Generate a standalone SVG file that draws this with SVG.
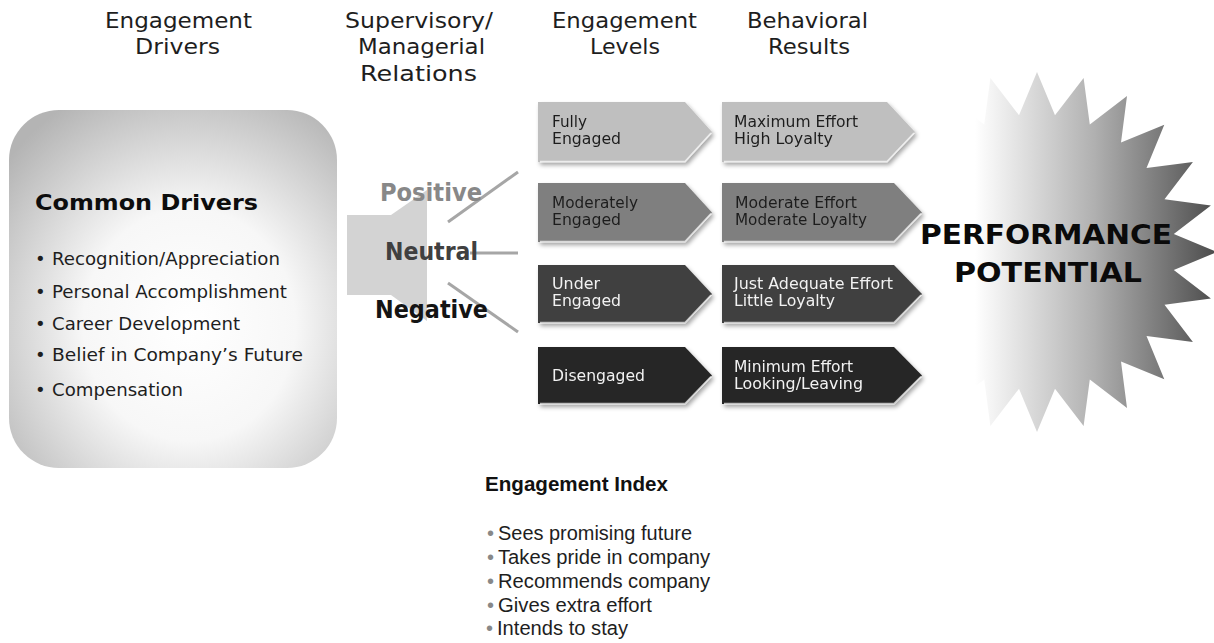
<svg xmlns="http://www.w3.org/2000/svg" width="1214" height="643" viewBox="0 0 1214 643">
  <defs>
    <radialGradient id="boxFill" cx="0.55" cy="0.6" r="0.72">
      <stop offset="0" stop-color="#ffffff"/>
      <stop offset="0.45" stop-color="#f7f7f7"/>
      <stop offset="1" stop-color="#b4b4b4"/>
    </radialGradient>
    <linearGradient id="starFill" gradientUnits="userSpaceOnUse" x1="975" y1="0" x2="1214" y2="0">
      <stop offset="0" stop-color="#ffffff"/>
      <stop offset="0.5" stop-color="#b0b0b0"/>
      <stop offset="1" stop-color="#4e4e4e"/>
    </linearGradient>
    <filter id="shadow" x="-10%" y="-20%" width="125%" height="150%">
      <feDropShadow dx="2" dy="3" stdDeviation="2" flood-color="#000" flood-opacity="0.35"/>
    </filter>
  </defs>
  <style>
    .hdr { font-family: "DejaVu Sans", Verdana, sans-serif; font-size: 22px; fill: #1e1e1e; }
    .drv { font-family: "DejaVu Sans", Verdana, sans-serif; font-size: 18px; fill: #1e1e1e; }
    .drvTitle { font-family: "DejaVu Sans", Verdana, sans-serif; font-size: 22px; font-weight: bold; fill: #0d0d0d; }
    .rel { font-family: "DejaVu Sans", Verdana, sans-serif; font-size: 24px; font-weight: bold; }
    .lbl { font-family: "DejaVu Sans", Verdana, sans-serif; font-size: 16px; }
    .dark { fill: #1e1e1e; }
    .light { fill: #f2f2f2; }
    .perf { font-family: "DejaVu Sans", Verdana, sans-serif; font-size: 27px; font-weight: bold; fill: #0a0a0a; }
    .idx { font-family: "Liberation Sans", Arial, sans-serif; font-size: 20px; fill: #1e1e1e; }
    .idxTitle { font-family: "Liberation Sans", Arial, sans-serif; font-size: 20px; font-weight: bold; fill: #111; }
    .dot { fill: #888; }
    .link { stroke: #a6a6a6; stroke-width: 3; fill: none; }
    .bevel { stroke: #ffffff; stroke-opacity: 0.7; stroke-width: 1.5; fill: none; }
  </style>

  <rect width="1214" height="643" fill="#ffffff"/>

  <!-- column headings -->
  <g id="headings">
    <text class="hdr" x="105" y="28" textLength="147" lengthAdjust="spacingAndGlyphs">Engagement</text>
    <text class="hdr" x="135" y="54" textLength="85" lengthAdjust="spacingAndGlyphs">Drivers</text>
    <text class="hdr" x="345" y="28" textLength="148" lengthAdjust="spacingAndGlyphs">Supervisory/</text>
    <text class="hdr" x="358" y="54" textLength="127" lengthAdjust="spacingAndGlyphs">Managerial</text>
    <text class="hdr" x="360" y="81" textLength="117" lengthAdjust="spacingAndGlyphs">Relations</text>
    <text class="hdr" x="552" y="28" textLength="145" lengthAdjust="spacingAndGlyphs">Engagement</text>
    <text class="hdr" x="590" y="54" textLength="70" lengthAdjust="spacingAndGlyphs">Levels</text>
    <text class="hdr" x="747" y="28" textLength="121" lengthAdjust="spacingAndGlyphs">Behavioral</text>
    <text class="hdr" x="768" y="54" textLength="82" lengthAdjust="spacingAndGlyphs">Results</text>
  </g>

  <!-- common drivers box -->
  <g id="common-drivers">
    <rect x="9" y="110" width="328" height="358" rx="50" ry="50" fill="url(#boxFill)"/>
    <text class="drvTitle" x="35" y="210" textLength="223" lengthAdjust="spacingAndGlyphs">Common Drivers</text>
    <text class="drv" x="35" y="265">•</text>
    <text class="drv" x="52" y="265" textLength="228" lengthAdjust="spacingAndGlyphs">Recognition/Appreciation</text>
    <text class="drv" x="35" y="298">•</text>
    <text class="drv" x="52" y="298" textLength="235" lengthAdjust="spacingAndGlyphs">Personal Accomplishment</text>
    <text class="drv" x="35" y="330">•</text>
    <text class="drv" x="52" y="330" textLength="188" lengthAdjust="spacingAndGlyphs">Career Development</text>
    <text class="drv" x="35" y="361">•</text>
    <text class="drv" x="52" y="361" textLength="251" lengthAdjust="spacingAndGlyphs">Belief in Company’s Future</text>
    <text class="drv" x="35" y="396">•</text>
    <text class="drv" x="52" y="396" textLength="131" lengthAdjust="spacingAndGlyphs">Compensation</text>
  </g>

  <!-- performance potential starburst -->
  <g id="performance-potential">
    <polygon fill="url(#starFill)" points="1037,72 1055,115.2 1083.6,78.1 1089.8,124.5 1127,96.1 1121,142.5 1164.3,124.7 1146.5,168 1192.9,162 1164.5,199.2 1210.9,205.4 1173.8,234 1217,252 1173.8,270 1210.9,298.6 1164.5,304.8 1192.9,342 1146.5,336 1164.3,379.3 1121,361.5 1127,407.9 1089.8,379.5 1083.6,425.9 1055,388.8 1037,432 1019,388.8 990.4,425.9 984.2,379.5 947,407.9 953,361.5 909.7,379.3 927.5,336 881.1,342 909.5,304.8 863.1,298.6 900.2,270 857,252 900.2,234 863.1,205.4 909.5,199.2 881.1,162 927.5,168 909.7,124.7 953,142.5 947,96.1 984.2,124.5 990.4,78.1 1019,115.2"/>
    <text class="perf" x="920" y="244" textLength="252" lengthAdjust="spacingAndGlyphs">PERFORMANCE</text>
    <text class="perf" x="954" y="282" textLength="188" lengthAdjust="spacingAndGlyphs">POTENTIAL</text>
  </g>

  <!-- supervisory relations megaphone -->
  <g id="relations">
    <polygon fill="#d3d3d3" points="347,215 391,215 427,190 427,321 391,295 347,295"/>
  </g>

  <!-- connectors from relations to engagement levels -->
  <g id="connectors">
    <line class="link" x1="448" y1="222" x2="518" y2="172"/>
    <line class="link" x1="470" y1="253" x2="518" y2="253"/>
    <line class="link" x1="448" y1="283" x2="518" y2="332"/>
  </g>

  <g id="relation-labels">
    <text class="rel" x="380" y="201" fill="#888888" textLength="102" lengthAdjust="spacingAndGlyphs">Positive</text>
    <text class="rel" x="385" y="260" fill="#404040" textLength="93" lengthAdjust="spacingAndGlyphs">Neutral</text>
    <text class="rel" x="375" y="318" fill="#141414" textLength="113" lengthAdjust="spacingAndGlyphs">Negative</text>
  </g>

  <!-- engagement levels -->
  <g id="level-fully" filter="url(#shadow)">
    <path d="M538,102 H685 L712,132 L685,162 H538 Z" fill="#bfbfbf"/>
    <polyline class="bevel" points="540,161.5 685,161.5 711,133"/>
    <text class="lbl dark" x="552" y="127" textLength="35" lengthAdjust="spacingAndGlyphs">Fully</text>
    <text class="lbl dark" x="552" y="144" textLength="69" lengthAdjust="spacingAndGlyphs">Engaged</text>
  </g>
  <g id="level-moderate" filter="url(#shadow)">
    <path d="M538,183 H685 L712,212.5 L685,242 H538 Z" fill="#7f7f7f"/>
    <polyline class="bevel" points="540,241.5 685,241.5 711,213.5"/>
    <text class="lbl dark" x="552" y="208" textLength="86" lengthAdjust="spacingAndGlyphs">Moderately</text>
    <text class="lbl dark" x="552" y="225" textLength="69" lengthAdjust="spacingAndGlyphs">Engaged</text>
  </g>
  <g id="level-under" filter="url(#shadow)">
    <path d="M538,265 H685 L712,294 L685,323 H538 Z" fill="#404040"/>
    <polyline class="bevel" points="540,322.5 685,322.5 711,295"/>
    <text class="lbl light" x="552" y="289" textLength="48" lengthAdjust="spacingAndGlyphs">Under</text>
    <text class="lbl light" x="552" y="306" textLength="69" lengthAdjust="spacingAndGlyphs">Engaged</text>
  </g>
  <g id="level-disengaged" filter="url(#shadow)">
    <path d="M538,347 H685 L712,375.5 L685,404 H538 Z" fill="#262626"/>
    <polyline class="bevel" points="540,403.5 685,403.5 711,376.5"/>
    <text class="lbl light" x="552" y="381" textLength="93" lengthAdjust="spacingAndGlyphs">Disengaged</text>
  </g>

  <!-- behavioral results -->
  <g id="result-maximum" filter="url(#shadow)">
    <path d="M722,102 H887 L915,132 L887,162 H722 Z" fill="#bfbfbf"/>
    <polyline class="bevel" points="724,161.5 887,161.5 914,133"/>
    <text class="lbl dark" x="734" y="127" textLength="124" lengthAdjust="spacingAndGlyphs">Maximum Effort</text>
    <text class="lbl dark" x="734" y="144" textLength="99" lengthAdjust="spacingAndGlyphs">High Loyalty</text>
  </g>
  <g id="result-moderate" filter="url(#shadow)">
    <path d="M722,183 H894 L922,212.5 L894,242 H722 Z" fill="#7f7f7f"/>
    <polyline class="bevel" points="724,241.5 894,241.5 921,213.5"/>
    <text class="lbl dark" x="735" y="208" textLength="122" lengthAdjust="spacingAndGlyphs">Moderate Effort</text>
    <text class="lbl dark" x="735" y="225" textLength="132" lengthAdjust="spacingAndGlyphs">Moderate Loyalty</text>
  </g>
  <g id="result-adequate" filter="url(#shadow)">
    <path d="M722,265 H894 L922,294 L894,323 H722 Z" fill="#404040"/>
    <polyline class="bevel" points="724,322.5 894,322.5 921,295"/>
    <text class="lbl light" x="734" y="289" textLength="159" lengthAdjust="spacingAndGlyphs">Just Adequate Effort</text>
    <text class="lbl light" x="734" y="306" textLength="101" lengthAdjust="spacingAndGlyphs">Little Loyalty</text>
  </g>
  <g id="result-minimum" filter="url(#shadow)">
    <path d="M722,347 H894 L922,375.5 L894,404 H722 Z" fill="#262626"/>
    <polyline class="bevel" points="724,403.5 894,403.5 921,376.5"/>
    <text class="lbl light" x="734" y="372" textLength="119" lengthAdjust="spacingAndGlyphs">Minimum Effort</text>
    <text class="lbl light" x="734" y="389" textLength="129" lengthAdjust="spacingAndGlyphs">Looking/Leaving</text>
  </g>

  <!-- engagement index -->
  <g id="engagement-index">
    <text class="idxTitle" x="485" y="491" textLength="183" lengthAdjust="spacingAndGlyphs">Engagement Index</text>
    <text class="idx dot" x="487" y="540">•</text>
    <text class="idx" x="498" y="540" textLength="194" lengthAdjust="spacingAndGlyphs">Sees promising future</text>
    <text class="idx dot" x="487" y="564">•</text>
    <text class="idx" x="498" y="564" textLength="212" lengthAdjust="spacingAndGlyphs">Takes pride in company</text>
    <text class="idx dot" x="487" y="588">•</text>
    <text class="idx" x="498" y="588" textLength="212" lengthAdjust="spacingAndGlyphs">Recommends company</text>
    <text class="idx dot" x="487" y="612">•</text>
    <text class="idx" x="498" y="612" textLength="154" lengthAdjust="spacingAndGlyphs">Gives extra effort</text>
    <text class="idx dot" x="486" y="635">•</text>
    <text class="idx" x="497" y="635" textLength="131" lengthAdjust="spacingAndGlyphs">Intends to stay</text>
  </g>
</svg>
